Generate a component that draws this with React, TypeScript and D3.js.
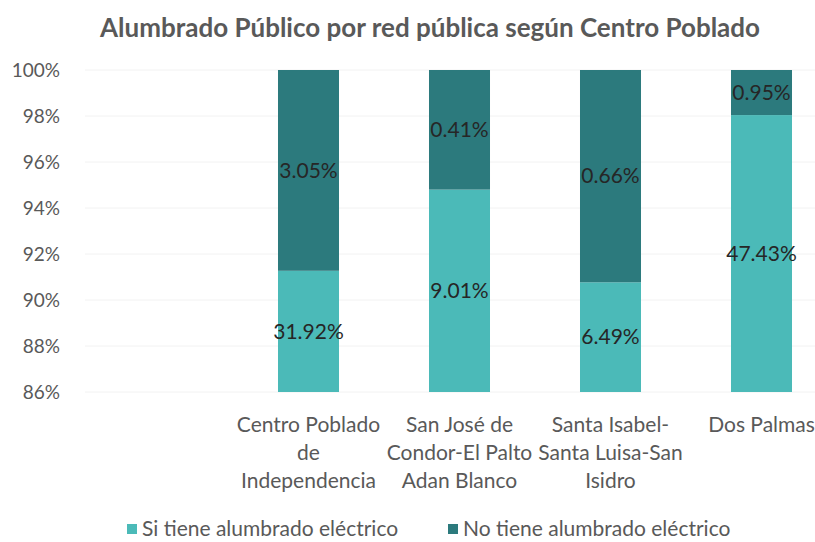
import React from "react";
import * as d3 from "d3";

const categories = ["Centro Poblado de Independencia", "San José de Condor-El Palto Adan Blanco", "Santa Isabel-Santa Luisa-San Isidro", "Dos Palmas"];
const categoryLines = [
  ["Centro Poblado", "de", "Independencia"],
  ["San José de", "Condor-El Palto", "Adan Blanco"],
  ["Santa Isabel-", "Santa Luisa-San", "Isidro"],
  ["Dos Palmas"],
];
const siShare = [91.27, 94.8, 90.77, 98.04];
const noShare = [8.73, 5.2, 9.23, 1.96];
const siLabels = ["31.92%", "9.01%", "6.49%", "47.43%"];
const noLabels = ["3.05%", "0.41%", "0.66%", "0.95%"];
const yTicks = [86, 88, 90, 92, 94, 96, 98, 100];
const seriesNames = ["Si tiene alumbrado eléctrico", "No tiene alumbrado eléctrico"];
const title = "Alumbrado Público por red pública según Centro Poblado";

const W = 815, H = 542;
const COL_SI = "#4bbab8";
const COL_NO = "#2c7a7d";
const GRAY = "#595959";
const FONT = "Lato, 'Open Sans', sans-serif";

export default function App() {
  const y = d3.scaleLinear().domain([86, 100]).range([392, 70]);
  const x = d3.scaleBand<string>().domain(categories).range([233, 837]).paddingInner(0.596).paddingOuter(0.298);
  const bw = x.bandwidth();
  return (
    <svg width={W} height={H} style={{ position: "absolute", left: 0, top: 0, background: "#fff" }} fontFamily={FONT}>
      <text x={430} y={37} textAnchor="middle" fontSize={26} fontWeight={700} fill={GRAY}>{title}</text>
      {yTicks.map((t) => (
        <g key={t}>
          <line x1={85} x2={815} y1={y(t)} y2={y(t)} stroke="#f2f2f2" strokeWidth={1} />
          <text x={60} y={y(t)} dy="0.35em" textAnchor="end" fontSize={19} fill={GRAY}>{t}%</text>
        </g>
      ))}
      {categories.map((c, i) => {
        const x0 = x(c)!;
        const ySi = y(86);
        const yB = y(siShare[i]);
        const yT = y(siShare[i] + noShare[i]);
        return (
          <g key={c}>
            <rect x={x0} y={yB} width={bw} height={ySi - yB} fill={COL_SI} />
            <rect x={x0} y={yT} width={bw} height={yB - yT} fill={COL_NO} />
            <text x={x0 + bw / 2} y={(ySi + yB) / 2} dy="0.35em" textAnchor="middle" fontSize={21} fill="#262626">{siLabels[i]}</text>
            <text x={x0 + bw / 2} y={(yB + yT) / 2} dy="0.35em" textAnchor="middle" fontSize={21} fill="#262626">{noLabels[i]}</text>
            {categoryLines[i].map((l, j) => (
              <text key={j} x={x0 + bw / 2} y={425 + j * 28} dy="0.35em" textAnchor="middle" fontSize={21} fill={GRAY}>{l}</text>
            ))}
          </g>
        );
      })}
      {seriesNames.map((s, i) => {
        const lx = i === 0 ? 127 : 448;
        return (
          <g key={s}>
            <rect x={lx} y={524} width={10} height={10} fill={i === 0 ? COL_SI : COL_NO} />
            <text x={lx + 15} y={529} dy="0.35em" fontSize={21} fill={GRAY}>{s}</text>
          </g>
        );
      })}
    </svg>
  );
}
